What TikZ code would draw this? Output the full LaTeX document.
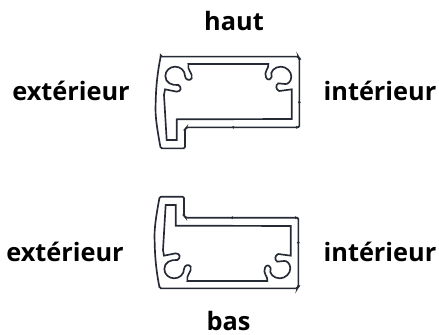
\documentclass[tikz,border=0pt]{standalone}
\usepackage{fontspec}
\setmainfont{Open Sans}
\definecolor{profil}{RGB}{38,42,52}
\tikzset{
  label/.style={font=\bfseries\fontsize{19}{22}\selectfont,text=black,inner sep=0pt,anchor=base},
  pics/profile/.style={code={
    % contour exterieur
    \draw[profil,line width=1.25pt,rounded corners=1pt] (62,50) -- (475,50) -- (478,55) -- (478,262) -- (140,262) -- (135,268) -- (135,325) -- (62,325) .. controls (52,270) and (45,230) .. (47,190) .. controls (48,130) and (55,85) .. (62,50) -- cycle;
    % contour interieur
    \draw[profil,line width=1.25pt] (145,72) -- (385,72) .. controls (388,85) and (370,95) .. (378,112) .. controls (382,122) and (392,120) .. (395,110)
      .. controls (388,95) and (405,80) .. (422,80) .. controls (440,80) and (454,95) .. (454,110) .. controls (454,125) and (442,134) .. (435,132)
      -- (415,130) .. controls (405,135) and (408,150) .. (418,153) -- (455,148) -- (455,237) -- (110,238) -- (110,300) -- (80,300) -- (72,165) -- (75,148)
      -- (110,155) .. controls (125,155) and (125,140) .. (115,135) .. controls (95,137) and (76,128) .. (76,108) .. controls (76,92) and (90,80) .. (105,80)
      .. controls (122,80) and (135,92) .. (135,108) .. controls (136,120) and (150,124) .. (155,115) .. controls (160,100) and (140,90) .. (145,72) -- cycle;
    % petits points
    \fill[profil] (478,55) circle (1.1pt) (478,187) circle (1.1pt) (280,262) circle (1.1pt) (470,262) circle (1.1pt);
  }}
}
\begin{document}
\begin{tikzpicture}[x=0.75pt,y=-0.75pt]
\useasboundingbox (0,0) rectangle (439,335);
\node[label] (haut) at (234,31) {haut};
\node[label] (ext1) at (71,100) {extérieur};
\node[label] (int1) at (380,100) {intérieur};
\node[label] (ext2) at (65,261) {extérieur};
\node[label] (int2) at (380,261) {intérieur};
\node[label] (bas) at (228.5,330) {bas};
\begin{scope}[shift={(140,40)},x=0.25pt,y=-0.25pt]
\pic {profile};
\end{scope}
\begin{scope}[shift={(139,305)},x=0.25pt,y=0.25pt]
\pic {profile};
\end{scope}
\end{tikzpicture}
\end{document}
